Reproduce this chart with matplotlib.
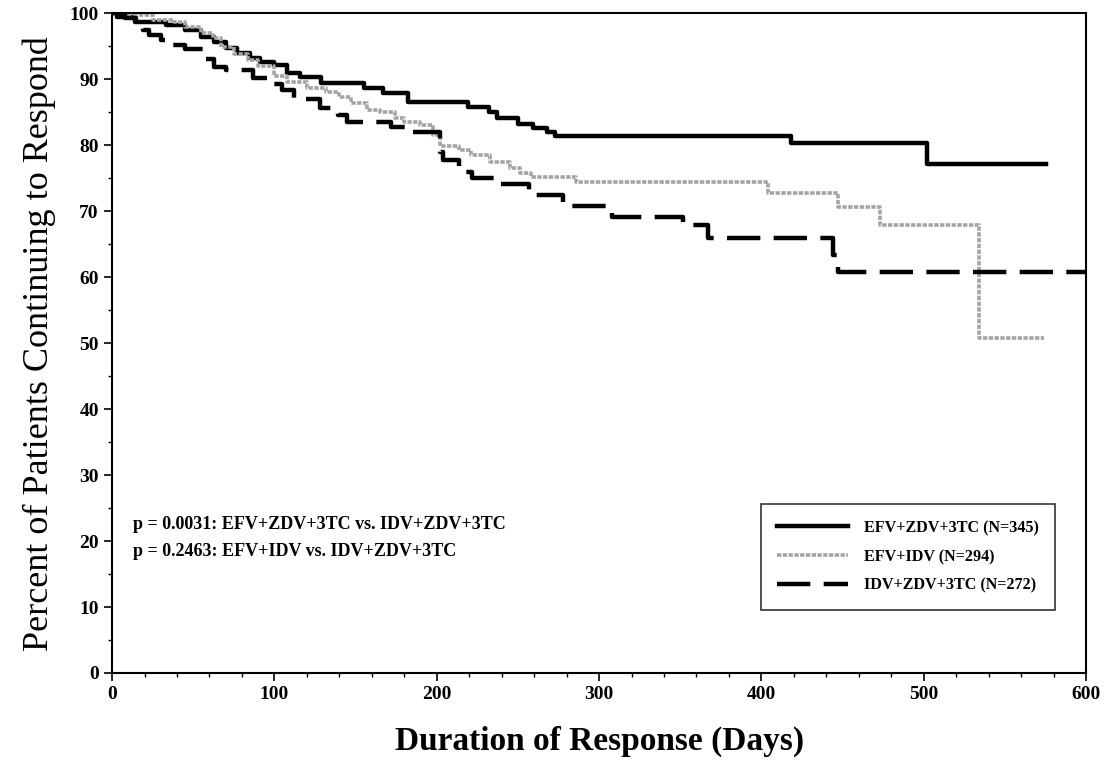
import numpy as np
import matplotlib.pyplot as plt
from matplotlib.ticker import MultipleLocator

# Kaplan-Meier step points (day, % still responding)
efv_zdv_days = [0, 3, 14, 33, 45, 55, 63, 70, 77, 85, 91, 100, 108, 116, 129, 155, 167, 182,
                219, 232, 237, 250, 259, 268, 273, 418, 502, 575]
efv_zdv_pct = [100, 99.4, 98.6, 98.2, 97.4, 96.4, 95.6, 94.7, 93.9, 93.2, 92.6, 92.1, 91.0, 90.3,
               89.4, 88.6, 87.9, 86.5, 85.8, 85.0, 84.1, 83.2, 82.6, 82.0, 81.4, 80.3, 77.1, 77.1]

efv_idv_days = [0, 10, 25, 38, 45, 55, 62, 67, 75, 84, 90, 100, 108, 120, 132, 140, 147, 157,
                165, 174, 180, 190, 198, 202, 214, 221, 233, 245, 251, 258, 286, 404, 447, 473,
                534, 574]
efv_idv_pct = [100, 99.7, 99.0, 98.6, 97.9, 97.0, 96.2, 94.8, 93.8, 92.9, 92.0, 90.5, 89.5, 88.6,
               88.0, 87.3, 86.4, 85.3, 85.0, 84.1, 83.5, 83.0, 81.6, 79.8, 79.2, 78.5, 77.4, 76.5,
               75.8, 75.2, 74.4, 72.7, 70.6, 67.9, 50.8, 50.8]

idv_zdv_days = [0, 8, 15, 19, 23, 30, 34, 45, 56, 63, 70, 87, 96, 105, 112, 128, 139, 145, 172,
                184, 202, 204, 214, 222, 235, 257, 278, 308, 352, 367, 444, 447, 600]
idv_zdv_pct = [100, 99.2, 98.2, 97.4, 96.7, 96.0, 95.2, 94.5, 93.0, 91.8, 91.4, 90.2, 89.2, 88.3,
               87.0, 85.6, 84.5, 83.5, 82.7, 82.0, 79.0, 77.7, 75.9, 75.0, 74.1, 72.4, 70.8, 69.1,
               67.9, 65.9, 63.3, 60.8, 60.8]

labels = ['EFV+ZDV+3TC (N=345)', 'EFV+IDV (N=294)', 'IDV+ZDV+3TC (N=272)']
pvals = ['p = 0.0031: EFV+ZDV+3TC vs. IDV+ZDV+3TC',
         'p = 0.2463: EFV+IDV vs. IDV+ZDV+3TC']

plt.rcParams['font.family'] = ['Liberation Serif', 'DejaVu Serif']

fig = plt.figure(figsize=(11.06, 7.74), dpi=100)
ax = fig.add_axes([0.1013, 0.1305, 0.8807, 0.8525])

ax.step(efv_zdv_days, efv_zdv_pct, where='post', color='black', linewidth=3.2, label=labels[0])
ax.step(efv_idv_days, efv_idv_pct, where='post', color='#a4a4a4', linewidth=2.6,
        linestyle=(0, (1.2, 0.4)), label=labels[1])
ax.step(idv_zdv_days, idv_zdv_pct, where='post', color='black', linewidth=3.2,
        linestyle=(0, (7.5, 3)), label=labels[2])

ax.set_xlim(0, 600)
ax.set_ylim(0, 100)
ax.xaxis.set_major_locator(MultipleLocator(100))
ax.xaxis.set_minor_locator(MultipleLocator(20))
ax.yaxis.set_major_locator(MultipleLocator(10))
ax.yaxis.set_minor_locator(MultipleLocator(5))
ax.tick_params(which='major', direction='out', length=6, width=1.2, labelsize=14)
ax.tick_params(which='minor', direction='out', length=3, width=1)
for lbl in ax.get_xticklabels() + ax.get_yticklabels():
    lbl.set_fontweight('bold')
for s in ax.spines.values():
    s.set_linewidth(1.5)

ax.set_xlabel('Duration of Response (Days)', fontsize=24, fontweight='bold', labelpad=16)
ax.set_ylabel('Percent of Patients Continuing to Respond', fontsize=26, labelpad=10)

ax.text(0.022, 0.218, pvals[0], transform=ax.transAxes, fontsize=13, fontweight='bold')
ax.text(0.022, 0.178, pvals[1], transform=ax.transAxes, fontsize=13, fontweight='bold')

leg = ax.legend(loc='lower right', bbox_to_anchor=(0.968, 0.0955), frameon=True, fancybox=False,
                edgecolor='black', handlelength=4.4, handletextpad=1.0,
                prop={'weight': 'bold', 'size': 11.6}, borderpad=1.0, labelspacing=0.8,
                borderaxespad=0)
leg.get_frame().set_linewidth(1.2)

plt.savefig('out.png', dpi=100)
